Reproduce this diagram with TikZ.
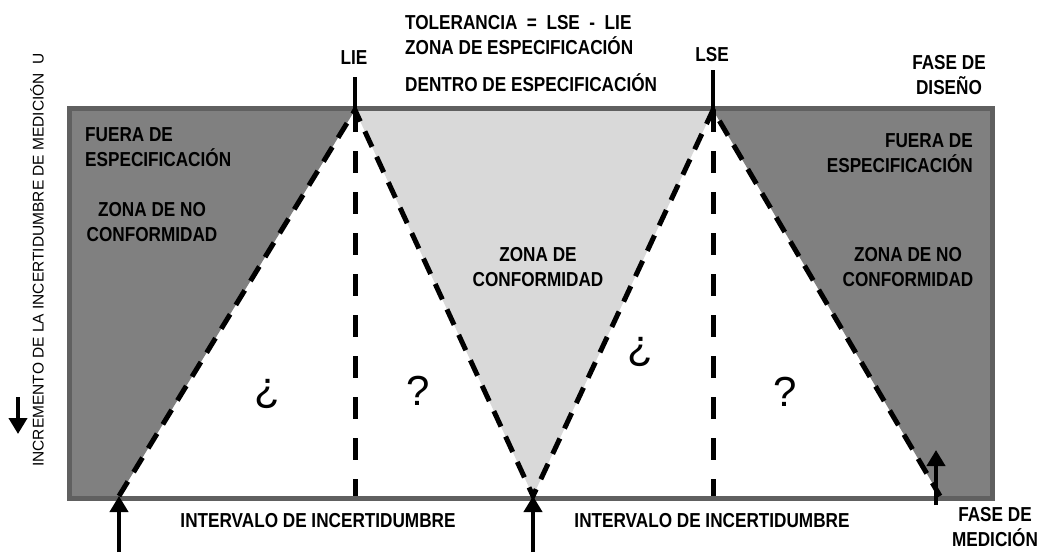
\documentclass[tikz,border=0pt]{standalone}
\usepackage{fontspec}
\setmainfont{Liberation Sans}
\newfontfamily\labelfont[FakeStretch=0.85]{Liberation Sans}
\usetikzlibrary{arrows.meta}
\definecolor{boxcolor}{RGB}{96,96,96}
\definecolor{outcolor}{RGB}{128,128,128}
\definecolor{incolor}{RGB}{217,217,217}

\begin{document}
\begin{tikzpicture}[
    x=1pt, y=-1pt,
    >={Triangle[width=18pt, length=16pt]},
    % Text styles
    zonetext/.style={font=\labelfont\bfseries\fontsize{20.2}{25}\selectfont, inner sep=0pt, align=center},
    axistext/.style={font=\fontsize{15.5}{18}\selectfont, inner sep=0pt, rotate=90},
    signtext/.style={font=\fontsize{42}{42}\selectfont, inner sep=0pt},
    % Line styles
    boxline/.style={draw=boxcolor, line width=5pt},
    slope/.style={line width=5pt, dash pattern=on 17pt off 11pt},
    divider/.style={line width=5pt, dash pattern=on 22pt off 19pt},
    limit/.style={line width=4pt},
    phase/.style={->, line width=4pt},
]
\useasboundingbox (0,0) rectangle (1046,552);

% Corners and vertices
\coordinate (tl) at (69.5,108.5);
\coordinate (tr) at (992.5,108.5);
\coordinate (bl) at (69.5,498.5);
\coordinate (br) at (992.5,498.5);
\coordinate (lie) at (355,110);
\coordinate (lse) at (713,110);
\coordinate (leftfoot) at (119,496);
\coordinate (midfoot) at (533,496);
\coordinate (rightfoot) at (940,496);
\coordinate (liebottom) at (355,496);
\coordinate (lsebottom) at (713,496);
\coordinate (lietick) at (355,77);
\coordinate (lsetick) at (713,70);

% Zones
\fill[outcolor] (tl) -- (lie) -- (leftfoot) -- (bl) -- cycle;
\fill[incolor] (lie) -- (lse) -- (midfoot) -- cycle;
\fill[outcolor] (lse) -- (tr) -- (br) -- (rightfoot) -- cycle;
\draw[boxline] (tl) rectangle (br);

% Uncertainty limits
\draw[slope] (leftfoot) -- (lie) -- (midfoot) -- (lse) -- (rightfoot);
\draw[divider] (lie) -- (liebottom);
\draw[divider] (lse) -- (lsebottom);
\draw[limit] (lietick) -- (lie);
\draw[limit] (lsetick) -- (lse);

% Arrows
\coordinate (leftbase) at (119,552);
\coordinate (midbase) at (533,552);
\coordinate (rightbase) at (936,505);
\coordinate (righttip) at (936,450);
\coordinate (axistop) at (18,397);
\coordinate (axistip) at (18,434);
\draw[phase] (leftbase) -- (leftfoot);
\draw[phase] (midbase) -- (midfoot);
\draw[phase] (rightbase) -- (righttip);
\draw[phase] (axistop) -- (axistip);

% Labels above the box
\node (liename) [zonetext, anchor=north] at (354,50) {LIE};
\node (lsename) [zonetext, anchor=north] at (712,47) {LSE};
\node (tolerance) [zonetext, anchor=north west, align=left] at (405,15) {TOLERANCIA\ \ =\ \ LSE\ \ -\ \ LIE\\ZONA DE ESPECIFICACIÓN};
\node (inside) [zonetext, anchor=base west] at (405,91) {DENTRO DE ESPECIFICACIÓN};
\node (design) [zonetext, anchor=north] at (949,55) {FASE DE\\DISEÑO};

% Labels in the zones
\node (leftout) [zonetext, anchor=north west, align=left] at (85,127) {FUERA DE\\ESPECIFICACIÓN};
\node (rightout) [zonetext, anchor=north east, align=right] at (973,133) {FUERA DE\\ESPECIFICACIÓN};
\node (leftnc) [zonetext, anchor=north] at (152,202) {ZONA DE NO\\CONFORMIDAD};
\node (conform) [zonetext, anchor=north] at (538,247) {ZONA DE\\CONFORMIDAD};
\node (rightnc) [zonetext, anchor=north] at (908,247) {ZONA DE NO\\CONFORMIDAD};

% Doubt marks
\node (doubt1) [signtext] at (267,394) {¿};
\node (doubt2) [signtext] at (418,391) {?};
\node (doubt3) [signtext] at (640,352) {¿};
\node (doubt4) [signtext] at (785,392) {?};

% Labels below the box
\node (interval1) [zonetext, anchor=north] at (318,513) {INTERVALO DE INCERTIDUMBRE};
\node (interval2) [zonetext, anchor=north] at (712,513) {INTERVALO DE INCERTIDUMBRE};
\node (measure) [zonetext, anchor=north] at (995,507) {FASE DE\\MEDICIÓN};

% Vertical axis label
\node (axis) [axistext] at (37,260) {INCREMENTO DE LA INCERTIDUMBRE DE MEDICIÓN\ \ U};

\end{tikzpicture}
\end{document}
